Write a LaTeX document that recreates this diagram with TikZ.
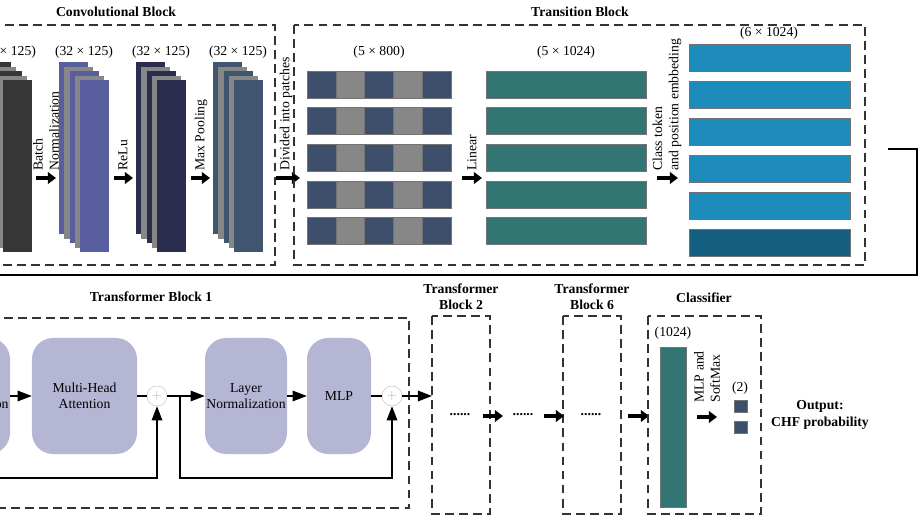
\documentclass[tikz,border=0pt]{standalone}
\usepackage{fontspec}
\setmainfont{Liberation Serif}
\usetikzlibrary{arrows.meta,positioning}

\definecolor{convgray}{HTML}{363636}
\definecolor{normblue}{HTML}{585E9E}
\definecolor{reludark}{HTML}{2A2D4E}
\definecolor{poolslate}{HTML}{3F5570}
\definecolor{layergray}{HTML}{878787}
\definecolor{patchslate}{HTML}{3E4F6B}
\definecolor{lineteal}{HTML}{337572}
\definecolor{tokenblue}{HTML}{1E8BBD}
\definecolor{clsblue}{HTML}{145F7F}
\definecolor{blockfill}{HTML}{B4B6D4}

\newcommand{\figfont}{\fontsize{11.7pt}{13.8pt}\selectfont}

\tikzset{
  blockbox/.style={draw=black!80, line width=1.1pt, dash pattern=on 7.5pt off 4.5pt},
  blocktitle/.style={font=\figfont\bfseries, align=center},
  fatarrow/.style={line width=3pt, -{Triangle[length=7pt,width=10pt]}},
  thinarrow/.style={line width=0.9pt, -{Triangle[length=12pt,width=9pt]}},
  layerbox/.style={rounded corners=18pt, fill=blockfill, minimum height=3.48cm, align=center, inner sep=1pt},
  adder/.style={circle, draw=black!25, fill=white, minimum size=0.6cm, inner sep=0pt, text=black!30},
  sidelabel/.style={rotate=90, anchor=west, align=left, inner sep=1pt},
  cell/.style={draw=black!55, line width=0.4pt},
}

% stack of feature maps: front left x, colour
\newcommand{\featstack}[2]{%
  \foreach \i in {0,...,4}{
    \ifodd\i \def\lc{layergray}\else\def\lc{#2}\fi
    \fill[\lc] ({#1-20.8+5.2*\i},{62+4.6*\i}) rectangle ++(29,172);
  }}

\begin{document}
\begin{tikzpicture}[x=0.03cm, y=-0.03cm, font=\figfont]
  \useasboundingbox (0,0) rectangle (918,517);
  \clip (0,0) rectangle (918,517);

  % convolutional block
  \draw[blockbox] (-10,25) rectangle (275,265);
  \node[blocktitle] (conv-title) at (116,12) {Convolutional Block};
  \featstack{3}{convgray}
  \featstack{80}{normblue}
  \featstack{157}{reludark}
  \featstack{234}{poolslate}
  \node (conv-size) at (7,52) {(32 × 125)};
  \node (norm-size) at (84,52) {(32 × 125)};
  \node (relu-size) at (161,52) {(32 × 125)};
  \node (pool-size) at (238,52) {(32 × 125)};

  \coordinate (bn-s) at (36,178);   \coordinate (bn-e) at (56,178);
  \coordinate (relu-s) at (114,178); \coordinate (relu-e) at (133,178);
  \coordinate (pool-s) at (191,178); \coordinate (pool-e) at (210,178);
  \coordinate (div-s) at (276,178);  \coordinate (div-e) at (300,178);
  \draw[fatarrow] (bn-s) -- (bn-e);
  \draw[fatarrow] (relu-s) -- (relu-e);
  \draw[fatarrow] (pool-s) -- (pool-e);
  \draw[fatarrow] (div-s) -- (div-e);
  \node[sidelabel] (bn-lbl) at (46,172) {Batch\\Normalization};
  \node[sidelabel] (relu-lbl) at (123,172) {ReLu};
  \node[sidelabel] (pool-lbl) at (201,172) {Max Pooling};
  \node[sidelabel] (div-lbl) at (286,172) {Divided into patches};

  % transition block
  \draw[blockbox] (294,25) rectangle (865,265);
  \node[blocktitle] (trans-title) at (580,12) {Transition Block};

  \foreach \j in {0,...,4}{
    \foreach \k in {0,...,4}{
      \ifodd\k \def\pc{layergray}\else\def\pc{patchslate}\fi
      \filldraw[cell, fill=\pc] ({307+28.8*\k},{71+36.6*\j}) rectangle ++(28.8,27);
    }
    \filldraw[cell, fill=lineteal] (486,{71+36.6*\j}) rectangle ++(160,27);
  }
  \foreach \j in {0,...,4}
    \filldraw[cell, fill=tokenblue] (689,{44+37*\j}) rectangle ++(161,27);
  \filldraw[cell, fill=clsblue] (689,229) rectangle ++(161,27);

  \node (patch-size) at (379,52) {(5 × 800)};
  \node (lin-size) at (566,52) {(5 × 1024)};
  \node (tok-size) at (769,33) {(6 × 1024)};

  \coordinate (lin-s) at (462,178); \coordinate (lin-e) at (482,178);
  \coordinate (cls-s) at (657,178); \coordinate (cls-e) at (678,178);
  \draw[fatarrow] (lin-s) -- (lin-e);
  \draw[fatarrow] (cls-s) -- (cls-e);
  \node[sidelabel] (lin-lbl) at (472,172) {Linear};
  \node[sidelabel] (cls-lbl) at (667,172) {Class token\\and position embbeding};

  % link to the second row
  \coordinate (tok-out) at (888,149);
  \coordinate (row-in) at (-10,275);
  \draw[line width=1pt] (tok-out) -- (917,149) -- (917,275) -- (row-in);

  % transformer block 1
  \draw[blockbox] (-10,318) rectangle (409,508);
  \node[blocktitle] (tb1-title) at (151,297) {Transformer Block 1};

  \node[layerbox, minimum width=2.46cm] (ln1) at (-31,396) {Layer\\Normalization};
  \node[layerbox, minimum width=3.15cm] (mha) at (84.5,396) {Multi-Head\\Attention};
  \node[adder] (add1) at (157,396) {$+$};
  \node[layerbox, minimum width=2.46cm] (ln2) at (246,396) {Layer\\Normalization};
  \node[layerbox, minimum width=1.92cm] (mlp) at (339,396) {MLP};
  \node[adder] (add2) at (392,396) {$+$};

  \coordinate (res-in) at (-10,478);
  \coordinate (fork) at (180,396);
  \coordinate (tb2-in) at (432,396);

  \draw[thinarrow] (ln1) -- (mha);
  \draw[line width=0.9pt] (mha) -- (add1);
  \draw[thinarrow] (add1) -- (ln2);
  \draw[thinarrow] (ln2) -- (mlp);
  \draw[line width=0.9pt] (mlp) -- (add2);
  \draw[thinarrow] (add2) -- (tb2-in);
  \draw[thinarrow] (res-in) -| (add1.south);
  \draw[thinarrow] (fork) -- (180,478) -| (add2.south);

  % transformer blocks 2 and 6
  \draw[blockbox] (432,316) rectangle (490,514);
  \node[blocktitle] (tb2-title) at (461,297) {Transformer\\Block 2};
  \draw[blockbox] (563,316) rectangle (621,514);
  \node[blocktitle] (tb6-title) at (592,297) {Transformer\\Block 6};

  \node[font=\figfont\bfseries] (dots2) at (460,415) {......};
  \node[font=\figfont\bfseries] (dots-mid) at (523,415) {......};
  \node[font=\figfont\bfseries] (dots6) at (591,415) {......};
  \coordinate (a2-s) at (483,416); \coordinate (a2-e) at (503,416);
  \coordinate (a6-s) at (544,416); \coordinate (a6-e) at (564,416);
  \coordinate (ac-s) at (628,416); \coordinate (ac-e) at (649,416);
  \draw[fatarrow] (a2-s) -- (a2-e);
  \draw[fatarrow] (a6-s) -- (a6-e);
  \draw[fatarrow] (ac-s) -- (ac-e);

  % classifier
  \draw[blockbox] (648,316) rectangle (761,514);
  \node[blocktitle] (cls-title) at (704,298) {Classifier};
  \node (vec-size) at (673,333) {(1024)};
  \filldraw[cell, fill=lineteal] (660,347) rectangle (686,507);
  \coordinate (sm-s) at (697,417); \coordinate (sm-e) at (717,417);
  \draw[fatarrow] (sm-s) -- (sm-e);
  \node[sidelabel] (sm-lbl) at (707,404) {MLP and\\SoftMax};
  \node (out-size) at (740,388) {(2)};
  \filldraw[cell, fill=patchslate] (734,400) rectangle (747,412);
  \filldraw[cell, fill=patchslate] (734,421) rectangle (747,433);
  \node[blocktitle] (out-lbl) at (820,415) {Output:\\CHF probability};
\end{tikzpicture}
\end{document}
